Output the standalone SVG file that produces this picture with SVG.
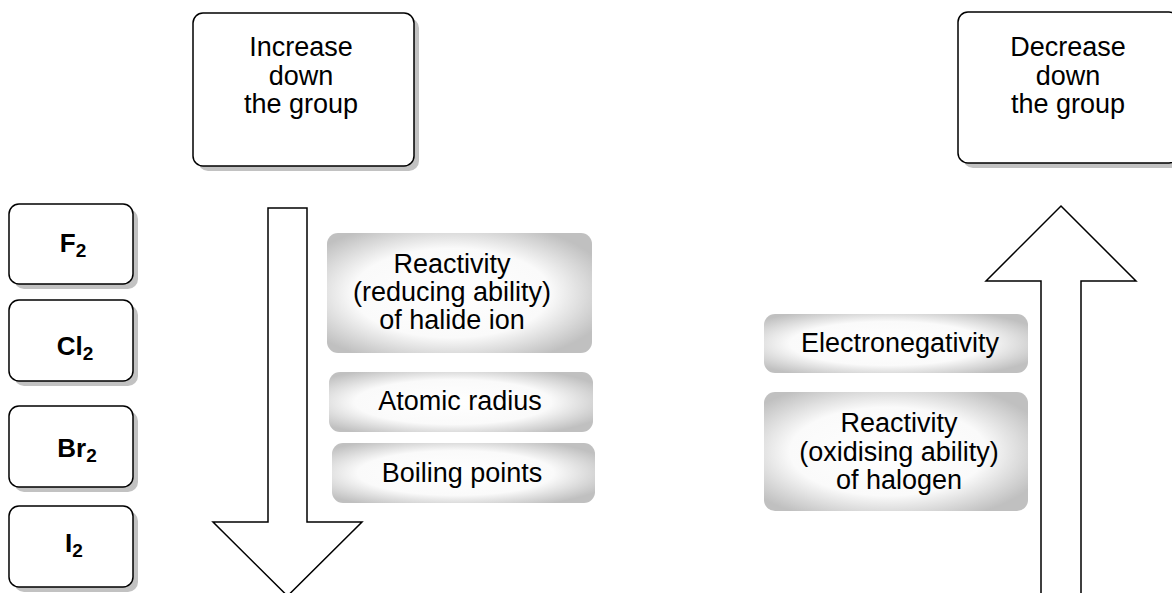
<svg xmlns="http://www.w3.org/2000/svg" width="1172" height="593" viewBox="0 0 1172 593">
<style>
.box{fill:#fff;stroke:#000;stroke-width:1.5}
.shd{fill:#c2c2c2}
.gbox{fill:url(#gg);stroke:none}
.arr{fill:#fff;stroke:#000;stroke-width:1.5;stroke-linejoin:miter}
text{font-family:"Liberation Sans",Arial,sans-serif;fill:#000}
.t{font-size:27px;text-anchor:middle}
.b{font-size:26px;font-weight:bold;text-anchor:middle}
.sub{font-size:19px}
</style>
<defs>
<radialGradient id="gg" cx="0.47" cy="0.5" r="0.62">
<stop offset="0" stop-color="#ffffff"/>
<stop offset="0.6" stop-color="#fafafa"/>
<stop offset="1" stop-color="#c0c0c0"/>
</radialGradient>
</defs>
<rect width="1172" height="593" fill="#fff"/>
<g id="connectors">
<path class="arr" d="M268,208 L307,208 L307,522 L362,522 L287.5,596 L213,522 L268,522 Z"/>
<path class="arr" d="M1041,600 L1041,281 L986,281 L1061,206 L1136,281 L1081,281 L1081,600"/>
</g>
<g id="increase">
<rect class="shd" x="198" y="18" width="221" height="153" rx="10"/>
<rect class="box" x="193" y="13" width="221" height="153" rx="10"/>
<text class="t" x="301" y="56">Increase</text>
<text class="t" x="301" y="85">down</text>
<text class="t" x="301" y="113">the group</text>
</g>
<g id="decrease">
<rect class="shd" x="963" y="17" width="221" height="151" rx="10"/>
<rect class="box" x="958" y="12" width="221" height="151" rx="10"/>
<text class="t" x="1068" y="56">Decrease</text>
<text class="t" x="1068" y="85">down</text>
<text class="t" x="1068" y="113">the group</text>
</g>
<g id="f2">
<rect class="shd" x="14" y="209" width="124" height="80" rx="10"/>
<rect class="box" x="9" y="204" width="124" height="80" rx="10"/>
<text class="b" x="73" y="252">F<tspan class="sub" dy="5">2</tspan></text>
</g>
<g id="cl2">
<rect class="shd" x="14" y="305" width="124" height="81" rx="10"/>
<rect class="box" x="9" y="300" width="124" height="81" rx="10"/>
<text class="b" x="75" y="355">Cl<tspan class="sub" dy="5">2</tspan></text>
</g>
<g id="br2">
<rect class="shd" x="14" y="411" width="124" height="81" rx="10"/>
<rect class="box" x="9" y="406" width="124" height="81" rx="10"/>
<text class="b" x="77" y="457">Br<tspan class="sub" dy="5">2</tspan></text>
</g>
<g id="i2">
<rect class="shd" x="14" y="511" width="124" height="81" rx="10"/>
<rect class="box" x="9" y="506" width="124" height="81" rx="10"/>
<text class="b" x="74" y="552">I<tspan class="sub" dy="5">2</tspan></text>
</g>
<g id="reactivity-halide">
<rect class="gbox" x="327" y="233" width="265" height="120" rx="11"/>
<text class="t" x="452" y="273">Reactivity</text>
<text class="t" x="452" y="301">(reducing ability)</text>
<text class="t" x="452" y="329">of halide ion</text>
</g>
<g id="atomic-radius">
<rect class="gbox" x="329" y="372" width="264" height="60" rx="11"/>
<text class="t" x="460" y="410">Atomic radius</text>
</g>
<g id="boiling-points">
<rect class="gbox" x="332" y="443" width="263" height="60" rx="11"/>
<text class="t" x="462" y="482">Boiling points</text>
</g>
<g id="electronegativity">
<rect class="gbox" x="764" y="314" width="264" height="59" rx="11"/>
<text class="t" x="900" y="352">Electronegativity</text>
</g>
<g id="reactivity-halogen">
<rect class="gbox" x="764" y="392" width="264" height="119" rx="11"/>
<text class="t" x="899" y="432">Reactivity</text>
<text class="t" x="899" y="461">(oxidising ability)</text>
<text class="t" x="899" y="489">of halogen</text>
</g>
</svg>
